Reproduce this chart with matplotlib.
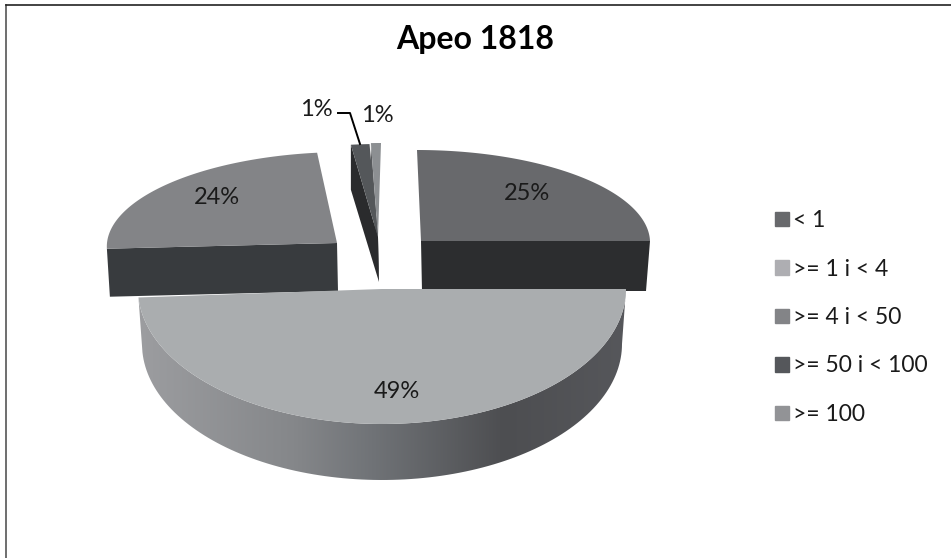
import numpy as np
import matplotlib
matplotlib.use("Agg")
import matplotlib.pyplot as plt
from matplotlib.colors import LinearSegmentedColormap
from matplotlib.patches import Patch, Polygon

plt.rcParams['font.family'] = ['Lato', 'DejaVu Sans']

# Data
categories = ['< 1', '>= 1 i < 4', '>= 4 i < 50', '>= 50 i < 100', '>= 100']
values = [25, 49, 24, 1.3, 0.7]
title = 'Apeo 1818'

top_colors = ['#68696c', '#aaadaf', '#838487', '#54575a', '#8c8f92']
side_colors = ['#2c2d2f', None, '#383b3e', '#2a2b2d', '#5a5c5f']
legend_colors = ['#68696c', '#aeaeb2', '#838487', '#55575b', '#929396']

# Projected shape of each slice: apex x, apex y, rx, ry, shear, thickness
shapes = [
    (421, 241, 229, 91, -4, 50),
    (382, 289, 244, 135, 0, 55),
    (337, 243, 230, 91, 9, 48),
    (378, 237, 229, 93, 1.6, 45),
    (378, 237, 229, 94, 3, 43),
]
# label centres in pixels
label_pos = [(527, 194), (397, 392), (217, 198), (316, 109), (377, 116)]


def rim(shape, a, b, n=120):
    cx, cy, rx, ry, sk, _ = shape
    t = np.radians(np.linspace(a, b, n))
    return cx + rx * np.sin(t) + sk * np.cos(t), cy - ry * np.cos(t)


def cut_face(shape, angle, dx=3):
    # the flat cut of a slice, seen from the front
    cx, cy, rx, ry, sk, h = shape
    x, y = rim(shape, angle, angle, 1)
    sign = -1 if x[0] > cx else 1
    return [(cx, cy), (x[0], y[0]), (x[0] + sign * dx, y[0] + h), (cx + 1, cy + h)]


fig = plt.figure(figsize=(9.51, 5.58), dpi=100)
ax = fig.add_axes([0, 0, 1, 1])
ax.set_xlim(0, 951)
ax.set_ylim(558, 0)
ax.axis('off')

ends = 360 * np.cumsum(values) / np.sum(values)
starts = np.r_[0, ends[:-1]]

# back slices first: cut faces then tops
ax.add_patch(Polygon(cut_face(shapes[0], ends[0], 4), color=side_colors[0], lw=0))
ax.add_patch(Polygon(cut_face(shapes[2], starts[2]), color=side_colors[2], lw=0))
for i in [4, 3]:
    ax.add_patch(Polygon(cut_face(shapes[i], starts[i], 0), color=side_colors[i], lw=0))
for i in [0, 2, 4, 3]:
    x, y = rim(shapes[i], starts[i], ends[i])
    ax.fill(np.r_[shapes[i][0], x], np.r_[shapes[i][1], y], color=top_colors[i], lw=0)

# big front slice, its wall has a horizontal gradient
s = shapes[1]
x1, y1 = rim(s, starts[1], ends[1])
lower = (s[0], s[1] + s[5], s[2] - 4, s[3] + 1, 0, 0)
x2, y2 = rim(lower, starts[1], ends[1])
wall = Polygon(np.c_[np.r_[x1, x2[::-1]], np.r_[y1, y2[::-1]]], fc='none', ec='none')
ax.add_patch(wall)
grad = LinearSegmentedColormap.from_list('wall', [
    (0.0, '#9c9da0'), (0.32, '#85878a'), (0.48, '#707377'),
    (0.75, '#4d4e51'), (1.0, '#56575b')])
im = ax.imshow(np.linspace(0, 1, 256)[None, :], cmap=grad, aspect='auto',
               extent=(x1.min(), x1.max(), 558, 0), zorder=1)
im.set_clip_path(wall)
ax.set_xlim(0, 951)
ax.set_ylim(558, 0)
ax.fill(np.r_[s[0], x1], np.r_[s[1], y1], color=top_colors[1], lw=0, zorder=2)

# percent labels
for v, (lx, ly) in zip(values, label_pos):
    ax.text(lx, ly, f'{v / np.sum(values) * 100:.0f}%', ha='center', va='center',
            fontsize=17, color='#1a1a1a', zorder=5)

# leader for the small slice
ax.plot([338, 350, 360], [113, 113, 144], color='black', lw=1.4, zorder=4)

ax.text(475, 40, title, ha='center', va='center', fontsize=23,
        fontweight='bold', color='black')

handles = [Patch(color=c, label=l) for c, l in zip(legend_colors, categories)]
ax.legend(handles=handles, loc='upper left', bbox_to_anchor=(775, 210),
          bbox_transform=ax.transData, frameon=False, fontsize=16.5, ncol=1,
          handlelength=0.6, handleheight=0.6, handletextpad=0.2, labelspacing=1.2,
          labelcolor='#1a1a1a', borderaxespad=0, borderpad=0)

# chart frame, only top and left edges show
ax.plot([5.5, 5.5], [558, 4.5], color='#555555', lw=1.2, zorder=6)
ax.plot([5.5, 951], [4.5, 4.5], color='#222222', lw=1.2, zorder=6)

fig.savefig('out.png', dpi=100)
